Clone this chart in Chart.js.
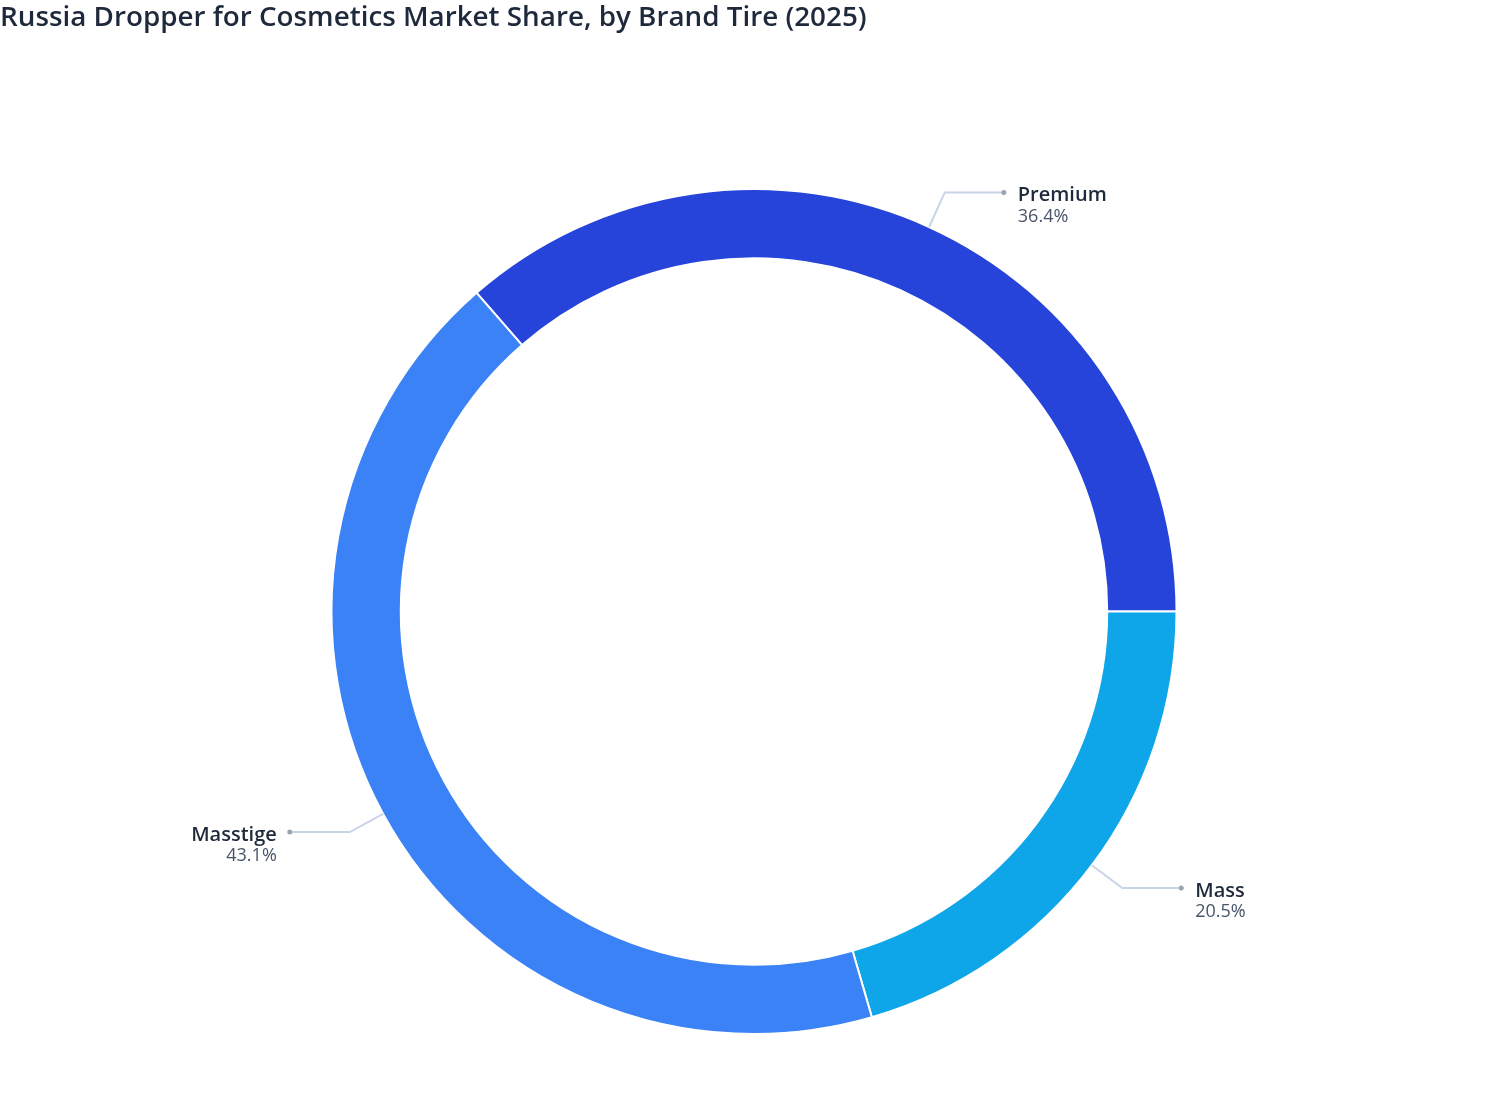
<!DOCTYPE html>
<html>
<head>
<meta charset="utf-8">
<title>Russia Dropper for Cosmetics Market Share</title>
<script src="https://cdn.jsdelivr.net/npm/chart.js@4/dist/chart.umd.min.js"></script>
<style>
    html, body { margin: 0; padding: 0; background: #fff; }
    #wrap { width: 1508px; height: 1120px; position: relative; }
</style>
</head>
<body>
<div id="wrap"><canvas id="chart"></canvas></div>
<script>
const chartTitle = 'Russia Dropper for Cosmetics Market Share, by Brand Tire (2025)';
const tiers = ['Premium', 'Mass', 'Masstige'];
const shares = [36.4, 20.5, 43.1];
const tierColors = ['#2644d9', '#0ea5e9', '#3b82f6'];

// title drawn by hand so it sits flush left like the original
const titlePlugin = {
    id: 'plainTitle',
    afterDraw(chart) {
        const ctx = chart.ctx;
        ctx.save();
        ctx.font = '600 27.8px "Open Sans", "Noto Sans", sans-serif';
        ctx.fillStyle = '#1e293b';
        ctx.textAlign = 'left';
        ctx.textBaseline = 'middle';
        ctx.fillText(chartTitle, 0, 18);
        ctx.restore();
    }
};

// leader lines + name / percent outside each slice
const calloutPlugin = {
    id: 'callouts',
    afterDatasetsDraw(chart) {
        const ctx = chart.ctx;
        const meta = chart.getDatasetMeta(0);
        ctx.save();
        meta.data.forEach((arc, i) => {
            const p = arc.getProps(['x', 'y', 'startAngle', 'endAngle', 'outerRadius'], true);
            const mid = (p.startAngle + p.endAngle) / 2;
            const cos = Math.cos(mid), sin = Math.sin(mid);
            const x0 = p.x + cos * p.outerRadius;
            const y0 = p.y + sin * p.outerRadius;
            const x1 = p.x + cos * (p.outerRadius + 38);
            const y1 = p.y + sin * (p.outerRadius + 38);
            const right = cos >= 0;
            const x2 = x1 + (right ? 59 : -60);

            ctx.strokeStyle = '#c9d4e8';
            ctx.lineWidth = 2;
            ctx.beginPath();
            ctx.moveTo(x0, y0);
            ctx.lineTo(x1, y1);
            ctx.lineTo(x2, y1);
            ctx.stroke();

            ctx.fillStyle = '#9ca3af';
            ctx.beginPath();
            ctx.arc(x2, y1, 2.5, 0, Math.PI * 2);
            ctx.fill();

            const tx = x2 + (right ? 14 : -13);
            ctx.textAlign = right ? 'left' : 'right';
            ctx.textBaseline = 'middle';
            ctx.font = '600 20px "Open Sans", "Noto Sans", sans-serif';
            ctx.fillStyle = '#1e293b';
            ctx.fillText(tiers[i], tx, y1 + 3);
            ctx.font = '18px "Open Sans", "Noto Sans", sans-serif';
            ctx.fillStyle = '#475569';
            ctx.fillText(shares[i].toFixed(1) + '%', tx, y1 + 24);
        });
        ctx.restore();
    }
};

const ctx = document.getElementById('chart');

new Chart(ctx, {
    type: 'doughnut',
    data: {
        labels: tiers,
        datasets: [{
            data: shares,
            backgroundColor: tierColors,
            borderColor: '#ffffff',
            borderWidth: 2,
            hoverOffset: 0
        }]
    },
    options: {
        responsive: true,
        maintainAspectRatio: false,
        animation: false,
        cutout: '83.6%',
        rotation: 90 - shares[0] * 3.6,
        layout: { padding: { top: 188, bottom: 85, left: 0, right: 0 } },
        plugins: {
            legend: { display: false },
            title: { display: false },
            tooltip: { enabled: false }
        }
    },
    plugins: [titlePlugin, calloutPlugin]
});
</script>
</body>
</html>
